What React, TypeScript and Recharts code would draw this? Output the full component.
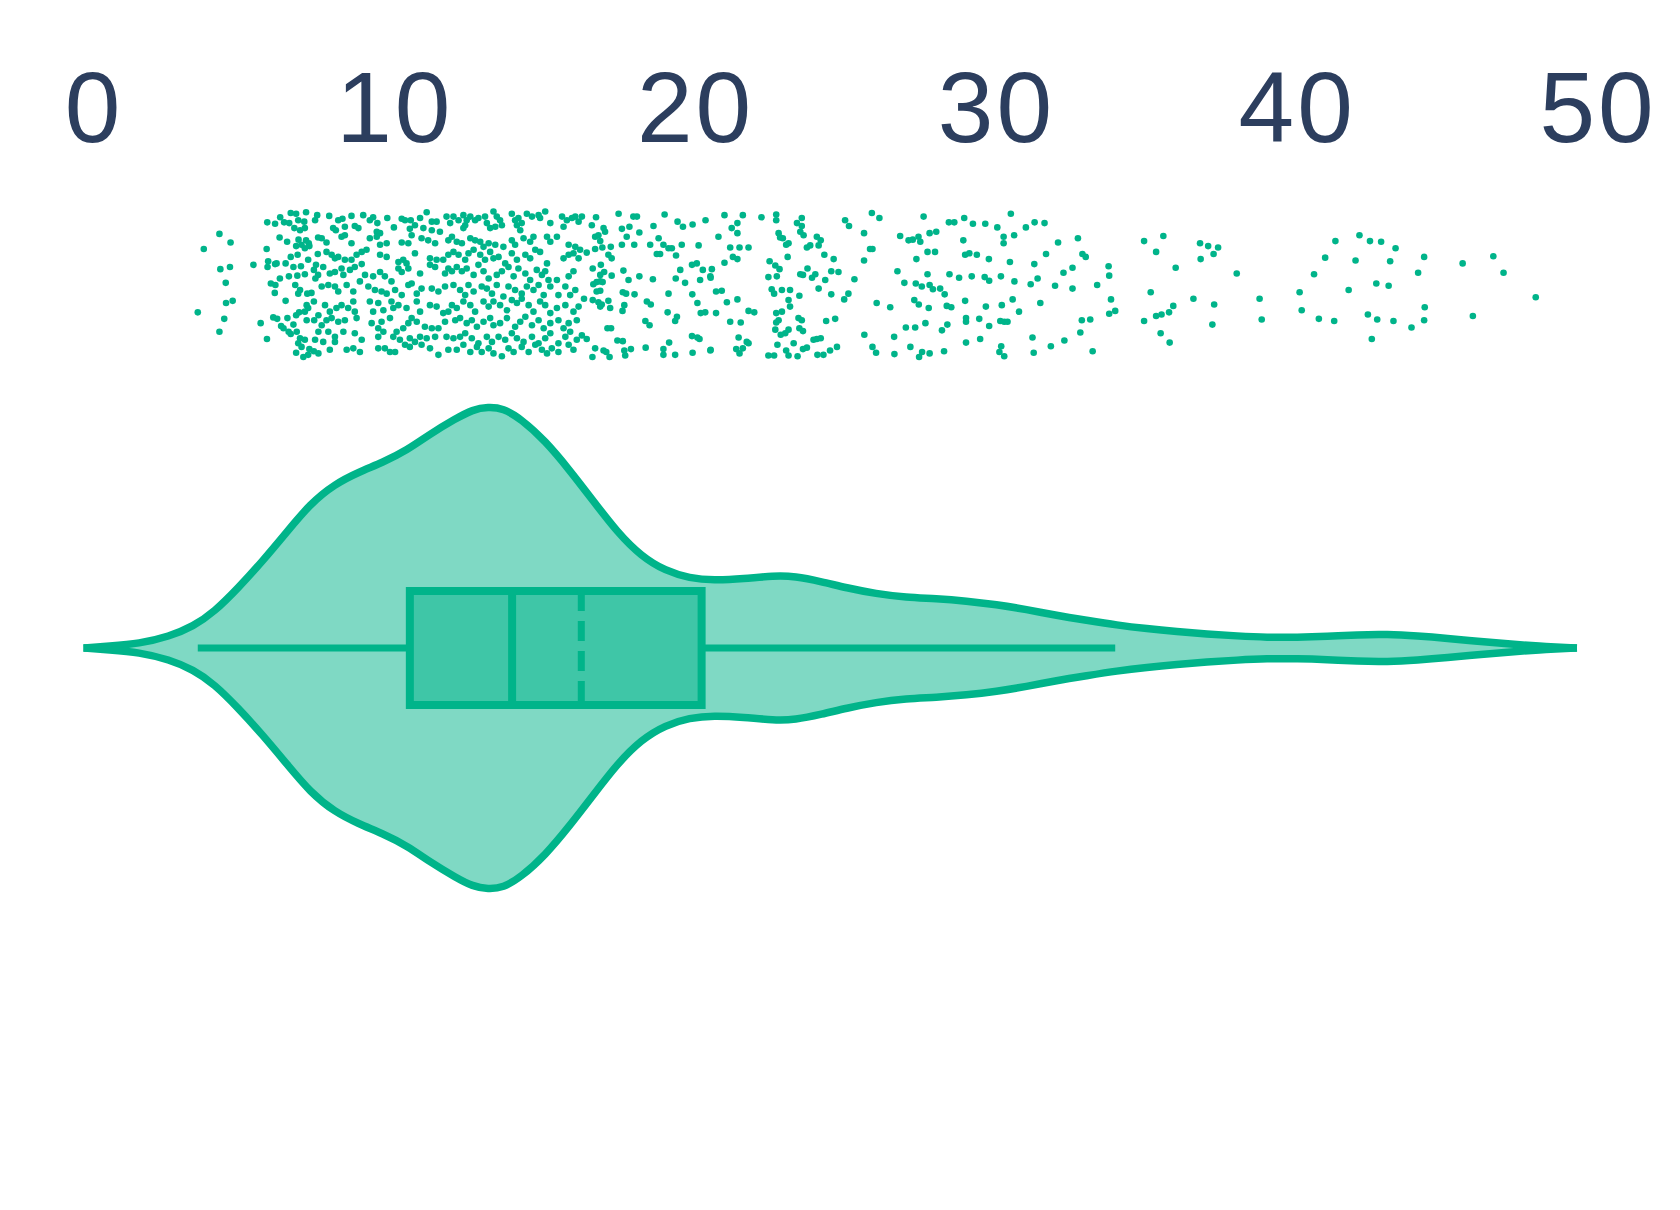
import React from 'react';
import { ComposedChart, XAxis, YAxis, Area, Line, Scatter } from 'recharts';

// ---------- data ----------
const xTicks = [0, 10, 20, 30, 40, 50];

// box-plot statistics
const whiskerLow = 3.45;
const q1 = 10.5;
const median = 13.9;
const mean = 16.2;
const q3 = 20.2;
const whiskerHigh = 33.95;

// violin: value -> relative density (peak = 1)
const violinX = [
  -0.35, 0.5, 1.5, 2.5, 3.3, 4.0, 4.8, 5.6, 6.4, 7.2, 8.0, 8.8, 9.6, 10.4, 11.2, 12.0, 12.6, 13.1,
  13.6, 14.2, 15.0, 15.8, 16.6, 17.4, 18.2, 19.0, 19.8, 20.6, 21.6, 22.6, 23.3, 24.2, 25.0, 26.0,
  27.0, 28.0, 29.0, 30.0, 31.0, 32.0, 33.0, 34.0, 35.0, 36.0, 37.0, 38.0, 39.0, 40.0, 41.0, 42.0,
  43.0, 44.0, 45.0, 46.0, 47.0, 48.0, 49.3,
];
const violinDensity = [
  0, 0.008, 0.018, 0.048, 0.09, 0.15, 0.25, 0.36, 0.48, 0.6, 0.68, 0.73, 0.77, 0.82, 0.89, 0.95, 0.99, 1.0,
  0.995, 0.95, 0.86, 0.74, 0.61, 0.48, 0.38, 0.32, 0.29, 0.28, 0.287, 0.3, 0.298, 0.275, 0.25, 0.225,
  0.21, 0.205, 0.195, 0.18, 0.16, 0.135, 0.115, 0.095, 0.08, 0.068, 0.058, 0.05, 0.044, 0.044, 0.048, 0.055,
  0.057, 0.05, 0.04, 0.028, 0.017, 0.008, 0,
];

// strip points: [value, jitter in -1..1]
const dots: [number, number][] = [
  [4.17,0.71],[4.54,0.59],[3.65,0.5],[4.2,0.22],[4.52,0.25],[4.38,0.03],[4.39,-0.25],[4.61,-0.22],[3.45,-0.38],[4.33,-0.47],
  [4.17,-0.65],[5.3,0.28],[5.54,-0.53],[5.75,-0.75],[5.74,0.5],[5.76,0.87],[5.79,0.33],[5.77,0.25],[6.02,0.29],[6.07,0.3],
  [5.88,0.02],[6.03,0.0],[6.01,-0.11],[5.96,-0.45],[6.09,-0.47],[6.22,-0.57],[6.3,-0.6],[6.02,0.85],[6.19,0.94],[6.32,0.87],
  [6.49,0.86],[6.54,1.0],[6.72,0.99],[7.05,1.01],[6.79,0.9],[6.99,0.88],[6.66,0.79],[6.85,0.76],[7.01,0.79],[7.35,0.9],
  [7.42,0.97],[6.17,0.66],[6.42,0.6],[6.8,0.63],[7.05,0.62],[7.14,0.58],[6.72,0.54],[6.9,0.56],[7.01,0.51],[7.16,0.54],
  [7.45,0.66],[6.54,0.39],[6.77,0.42],[6.37,0.3],[6.63,0.25],[6.88,0.26],[7.12,0.35],[7.38,0.28],[7.44,0.43],[6.18,0.09],
  [6.48,0.12],[6.76,0.13],[7.01,0.15],[7.31,0.21],[7.45,0.14],[7.36,0.09],[6.69,0.0],[6.85,-0.07],[6.79,-0.12],[7.09,-0.12],
  [7.23,-0.11],[7.31,-0.23],[6.37,-0.22],[7.07,-0.28],[7.01,-0.37],[7.12,-0.32],[6.43,-0.46],[6.72,-0.42],[6.82,-0.38],[7.07,-0.49],
  [7.32,-0.49],[7.46,-0.42],[6.47,-0.65],[6.54,-0.68],[6.74,-0.65],[6.63,-0.55],[6.85,-0.74],[7.01,-0.76],[6.79,-0.81],[7.35,-0.76],
  [7.46,-0.65],[6.72,-0.94],[6.9,-0.86],[7.16,-0.89],[7.31,-0.92],[7.46,-0.95],[6.96,-1.0],[7.12,-0.97],
  [7.82,0.96],[8.12,0.9],[8.26,0.92],[8.56,0.96],[8.95,0.97],[9.17,0.9],[9.28,0.94],[9.42,0.86],[9.75,0.93],[10.23,0.92],
  [10.34,0.9],[10.53,0.9],[10.84,0.93],[11.06,1.01],[11.23,0.88],[11.39,0.88],[11.72,0.95],[7.95,0.79],[8.04,0.76],[8.34,0.81],
  [8.67,0.82],[8.79,0.79],[9.4,0.74],[9.51,0.72],[9.97,0.8],[10.5,0.78],[10.67,0.83],[10.95,0.79],[11.23,0.76],[11.5,0.74],
  [11.84,0.86],[7.57,0.65],[7.73,0.59],[8.23,0.67],[8.34,0.69],[8.56,0.58],[8.9,0.46],[9.06,0.49],[9.17,0.65],[9.4,0.67],
  [9.51,0.56],[9.73,0.58],[10.23,0.59],[10.45,0.58],[10.56,0.69],[10.89,0.65],[11.11,0.62],[11.34,0.58],[11.78,0.62],[7.73,0.46],
  [7.9,0.42],[8.01,0.37],[8.12,0.39],[8.34,0.35],[8.56,0.35],[8.73,0.42],[9.51,0.42],[9.73,0.39],[10.12,0.32],[10.28,0.35],
  [10.39,0.3],[10.67,0.44],[11.17,0.37],[11.39,0.35],[11.61,0.35],[11.78,0.42],[7.62,0.25],[7.84,0.16],[8.01,0.18],[8.23,0.23],
  [8.29,0.14],[8.51,0.21],[8.67,0.25],[8.9,0.29],[9.01,0.14],[9.28,0.12],[9.51,0.18],[9.67,0.12],[9.89,0.05],[10.12,0.23],
  [10.23,0.18],[10.45,0.23],[10.84,0.16],[11.17,0.28],[11.34,0.25],[11.67,0.16],[11.78,0.23],[7.57,-0.02],[7.79,0.0],[8.01,-0.02],
  [8.12,-0.09],[8.4,0.0],[8.62,-0.09],[8.84,0.05],[9.12,-0.02],[9.34,-0.07],[9.56,-0.09],[9.73,-0.12],[10.01,-0.07],[10.23,-0.14],
  [10.45,0.0],[10.56,0.02],[10.73,-0.12],[10.89,-0.05],[11.23,-0.05],[11.45,-0.09],[11.67,-0.02],[7.68,-0.28],[7.84,-0.37],[8.06,-0.32],
  [8.23,-0.28],[8.45,-0.32],[8.62,-0.23],[8.67,-0.37],[9.17,-0.23],[9.28,-0.37],[9.45,-0.25],[9.62,-0.35],[9.89,-0.23],[9.95,-0.32],
  [10.12,-0.28],[10.39,-0.32],[10.73,-0.23],[10.84,-0.37],[11.17,-0.28],[11.39,-0.3],[11.61,-0.39],[11.78,-0.37],[7.57,-0.56],[7.73,-0.49],
  [7.9,-0.46],[8.12,-0.51],[8.34,-0.49],[8.73,-0.46],[9.23,-0.53],[9.45,-0.6],[9.56,-0.51],[9.84,-0.46],[10.06,-0.65],[10.28,-0.6],
  [10.45,-0.53],[10.56,-0.46],[10.73,-0.51],[11.0,-0.58],[11.23,-0.6],[11.45,-0.6],[11.67,-0.51],[7.79,-0.65],[8.01,-0.72],[8.29,-0.65],
  [8.67,-0.67],[8.9,-0.76],[9.45,-0.72],[9.62,-0.65],[9.95,-0.72],[10.17,-0.76],[10.5,-0.74],[10.67,-0.79],[10.84,-0.72],[11.06,-0.74],
  [11.34,-0.72],[11.72,-0.72],[7.62,-0.79],[7.84,-0.9],[8.01,-0.79],[8.4,-0.9],[8.62,-0.88],[8.84,-0.93],[9.45,-0.88],[9.67,-0.88],
  [9.84,-0.93],[10.01,-0.93],[10.34,-0.83],[10.5,-0.86],[10.89,-0.83],[11.17,-0.88],[11.45,-0.97],[11.78,-0.9],
  [11.95,0.95],[12.12,0.9],[12.28,0.97],[12.39,0.9],[12.51,0.95],[12.67,0.9],[12.78,0.93],[13.0,0.95],[13.06,0.86],[13.28,1.02],
  [13.39,0.95],[13.5,0.9],[13.56,0.83],[13.89,0.99],[14.0,0.9],[14.11,0.93],[14.06,0.83],[14.22,0.86],[14.39,0.99],[14.56,0.95],
  [14.78,0.97],[15.0,1.02],[15.17,0.86],[15.56,0.95],[15.72,0.9],[15.89,0.93],[16.0,0.95],[16.11,0.88],[12.28,0.79],[12.34,0.83],
  [13.17,0.79],[13.34,0.81],[14.17,0.76],[14.83,0.93],[15.61,0.81],[11.9,0.67],[12.06,0.6],[12.23,0.58],[12.51,0.65],[12.67,0.62],
  [12.84,0.6],[12.95,0.53],[13.12,0.58],[13.34,0.56],[13.61,0.53],[13.89,0.62],[14.0,0.56],[14.28,0.65],[14.5,0.6],[14.61,0.67],
  [15.06,0.67],[15.17,0.6],[15.39,0.67],[15.78,0.56],[16.0,0.53],[11.95,0.46],[12.12,0.42],[12.34,0.35],[12.45,0.44],[12.62,0.49],
  [12.84,0.42],[13.0,0.35],[13.17,0.46],[13.28,0.37],[13.45,0.39],[13.67,0.3],[13.89,0.44],[14.06,0.35],[14.34,0.42],[14.5,0.37],
  [14.67,0.49],[14.83,0.46],[15.06,0.3],[15.61,0.37],[15.78,0.42],[15.94,0.44],[16.11,0.37],[11.9,0.19],[12.06,0.25],[12.23,0.19],
  [12.39,0.23],[12.62,0.14],[12.78,0.28],[12.95,0.19],[13.12,0.09],[13.39,0.14],[13.56,0.19],[13.78,0.25],[13.95,0.12],[14.11,0.23],
  [14.34,0.16],[14.5,0.07],[14.72,0.21],[14.89,0.14],[15.0,0.19],[15.11,0.07],[15.39,0.07],[15.78,0.12],[15.94,0.19],[11.95,0.0],
  [12.17,-0.07],[12.34,-0.14],[12.45,0.0],[12.62,-0.09],[12.89,-0.02],[13.06,-0.05],[13.23,-0.12],[13.39,0.0],[13.61,-0.16],[13.78,-0.02],
  [14.0,-0.07],[14.22,-0.12],[14.39,-0.02],[14.61,-0.07],[14.78,0.0],[14.95,-0.14],[15.17,-0.02],[15.44,-0.14],[15.67,-0.02],[15.83,-0.14],
  [16.0,-0.07],[11.9,-0.28],[12.06,-0.32],[12.28,-0.23],[12.51,-0.28],[12.67,-0.37],[12.95,-0.23],[13.12,-0.3],[13.28,-0.23],[13.5,-0.28],
  [13.73,-0.35],[13.89,-0.21],[14.06,-0.25],[14.22,-0.19],[14.45,-0.28],[14.61,-0.37],[14.83,-0.23],[15.0,-0.28],[15.17,-0.39],[15.39,-0.32],
  [15.67,-0.28],[15.94,-0.37],[16.11,-0.3],[12.01,-0.49],[12.17,-0.46],[12.39,-0.53],[12.56,-0.49],[12.73,-0.58],[12.95,-0.51],[13.17,-0.46],
  [13.28,-0.56],[13.5,-0.53],[13.73,-0.46],[14.0,-0.58],[14.17,-0.51],[14.34,-0.44],[14.56,-0.56],[14.78,-0.49],[14.95,-0.6],[15.17,-0.53],
  [15.44,-0.49],[15.61,-0.6],[15.78,-0.53],[16.05,-0.49],[11.95,-0.74],[12.17,-0.72],[12.34,-0.67],[12.56,-0.74],[12.78,-0.81],[13.06,-0.72],
  [13.23,-0.79],[13.45,-0.72],[13.67,-0.76],[13.89,-0.67],[14.06,-0.74],[14.28,-0.79],[14.56,-0.72],[14.78,-0.81],[15.0,-0.74],[15.17,-0.67],
  [15.44,-0.81],[15.67,-0.72],[15.83,-0.65],[16.05,-0.76],[12.06,-0.9],[12.28,-0.83],[12.51,-0.93],[12.73,-0.86],[12.89,-0.93],[13.12,-0.88],
  [13.28,-0.95],[13.56,-0.99],[13.78,-0.88],[13.95,-0.93],[14.22,-0.86],[14.45,-0.93],[14.67,-0.83],[14.89,-0.9],[15.06,-0.95],[15.22,-0.88],
  [15.44,-0.93],[15.78,-0.83],[15.94,-0.9],
  [16.22,0.95],[16.69,0.94],[17.44,0.99],[17.93,0.95],[18.05,0.95],[18.97,0.98],[19.4,0.88],[19.9,0.84],[20.33,0.9],[16.55,0.83],
  [16.94,0.79],[16.99,0.74],[17.55,0.78],[17.8,0.81],[18.13,0.73],[18.6,0.82],[19.58,0.81],[16.66,0.67],[16.77,0.69],[16.83,0.61],
  [17.71,0.67],[18.77,0.65],[18.93,0.56],[19.1,0.51],[19.21,0.51],[17.55,0.56],[17.18,0.53],[17.96,0.56],[18.49,0.56],[19.54,0.56],
  [20.1,0.55],[16.16,0.49],[16.38,0.45],[16.66,0.5],[16.9,0.52],[17.1,0.42],[17.21,0.37],[18.71,0.43],[18.82,0.43],[19.35,0.41],
  [16.58,0.23],[16.85,0.28],[16.83,0.14],[16.96,0.18],[17.21,0.13],[17.6,0.2],[17.77,0.07],[18.13,0.12],[18.58,0.08],[19.34,0.09],
  [19.49,0.21],[19.65,0.03],[19.88,0.28],[20.04,0.3],[20.15,0.07],[20.24,0.21],[20.49,0.12],[16.6,0.01],[16.71,0.04],[16.83,0.05],
  [16.91,0.04],[16.71,-0.09],[16.83,-0.08],[17.58,-0.1],[17.69,-0.12],[17.97,-0.13],[19.1,-0.12],[19.89,-0.13],[16.29,-0.19],[16.58,-0.21],
  [16.77,-0.24],[16.83,-0.3],[16.88,-0.27],[17.1,-0.22],[17.16,-0.32],[17.63,-0.28],[17.57,-0.36],[18.38,-0.23],[18.51,-0.27],[19.07,-0.38],
  [19.38,-0.44],[19.32,-0.5],[20.06,-0.25],[20.17,-0.39],[20.32,-0.38],[18.33,-0.5],[18.47,-0.56],[17.07,-0.6],[17.19,-0.6],[16.22,-0.7],
  [16.38,-0.75],[17.4,-0.77],[17.58,-0.78],[19.88,-0.71],[20.06,-0.73],[20.13,-0.75],[19.12,-0.8],[16.66,-0.88],[16.94,-0.91],[17.03,-0.93],
  [17.63,-0.91],[17.85,-0.89],[18.34,-0.87],[18.93,-0.89],[16.57,-1.0],[17.14,-1.0],[17.66,-0.98],[18.93,-0.97],[19.32,-0.97],[19.9,-0.94],
  [20.49,-0.91],
  [20.96,0.97],[21.57,0.97],[22.19,0.94],[22.68,0.98],[22.68,0.9],[23.37,0.86],[23.53,0.93],[23.53,0.82],[21.39,0.86],[21.2,0.79],
  [21.39,0.72],[20.76,0.67],[22.76,0.72],[22.81,0.66],[22.9,0.65],[23.48,0.74],[23.59,0.69],[24.03,0.67],[24.16,0.62],[21.15,0.52],
  [21.46,0.52],[21.76,0.52],[23.09,0.58],[23.01,0.56],[23.7,0.52],[23.81,0.55],[24.09,0.55],[21.24,0.39],[21.39,0.36],[20.96,0.31],
  [23.06,0.39],[24.28,0.42],[24.59,0.36],[22.46,0.33],[22.65,0.27],[22.79,0.22],[20.54,0.22],[20.5,0.1],[22.42,0.11],[22.7,0.12],
  [23.48,0.15],[23.57,0.14],[23.72,0.23],[23.87,0.1],[23.98,0.15],[24.31,0.07],[24.51,0.19],[24.75,0.18],[20.68,-0.09],[20.87,-0.08],
  [21.39,-0.2],[21.04,-0.24],[22.53,-0.06],[22.61,-0.12],[22.87,-0.07],[23.14,-0.07],[23.45,-0.15],[24.09,-0.05],[24.51,-0.13],[23.09,-0.21],
  [23.14,-0.3],[20.68,-0.39],[21.76,-0.36],[21.95,-0.38],[22.68,-0.39],[22.87,-0.37],[22.76,-0.49],[22.68,-0.52],[21.15,-0.51],[21.5,-0.52],
  [23.42,-0.46],[23.53,-0.49],[24.34,-0.5],[24.64,-0.47],[22.65,-0.62],[22.98,-0.67],[23.09,-0.62],[22.83,-0.69],[23.45,-0.6],[23.57,-0.64],
  [21.43,-0.73],[21.7,-0.79],[21.76,-0.81],[23.26,-0.81],[22.72,-0.83],[23.92,-0.76],[24.03,-0.75],[24.16,-0.74],[24.7,-0.86],[20.5,-0.9],
  [21.35,-0.89],[21.57,-0.88],[21.46,-0.95],[22.42,-0.98],[22.61,-0.98],[23.01,-0.91],[23.09,-0.98],[23.39,-0.99],[23.57,-0.89],[23.7,-0.87],
  [24.05,-0.97],[24.25,-0.97],[24.47,-0.91],
  [24.97,0.9],[25.1,0.82],[25.6,0.72],[25.86,1.0],[26.11,0.93],[25.28,0.08],[25.08,-0.12],[24.94,-0.2],[25.6,0.34],[25.88,0.5],
  [25.8,0.5],[26.02,-0.25],[26.47,-0.31],[25.88,-0.86],[26.0,-0.94],[25.61,-0.69],[26.6,-0.72],[26.61,-0.96],[26.8,0.68],[26.71,0.19],
  [26.94,0.03],[26.99,-0.59],[27.08,0.62],[27.22,0.63],[27.41,0.67],[27.47,0.6],[27.58,0.95],[27.34,0.36],[27.71,0.46],[27.96,0.46],
  [27.78,0.72],[28.0,0.74],[27.32,0.02],[27.52,-0.02],[27.71,0.15],[27.78,0.0],[27.89,-0.06],[28.13,-0.05],[28.28,-0.13],[27.27,-0.21],
  [27.42,-0.27],[27.75,-0.32],[27.3,-0.59],[27.64,-0.53],[27.14,-0.86],[27.53,-0.93],[27.78,-0.95],[27.43,-1.0],[28.26,-0.92],[28.19,-0.63],
  [28.37,-0.55],[28.35,-0.29],[28.5,-0.31],[28.42,0.87],[28.6,0.87],[28.93,0.93],[29.22,0.85],[29.63,0.85],[30.03,0.8],[30.48,0.99],
  [30.24,0.67],[30.59,0.69],[30.98,0.8],[31.27,0.87],[31.6,0.86],[28.9,0.62],[28.96,0.42],[29.1,0.44],[29.35,0.42],[29.75,0.36],
  [30.24,0.58],[30.45,0.32],[31.26,0.29],[31.37,0.09],[31.14,0.01],[31.65,0.43],[32.05,0.59],[32.71,0.65],[32.86,0.43],[32.97,0.39],
  [32.23,0.17],[32.53,0.24],[31.95,-0.01],[32.53,-0.05],[33.35,0.0],[33.73,0.26],[33.75,0.13],[33.81,-0.2],[33.95,-0.36],[33.75,-0.4],
  [28.44,0.15],[28.76,0.1],[29.18,0.12],[29.61,0.11],[29.76,0.06],[30.15,0.12],[30.6,0.05],[28.96,-0.22],[29.65,-0.3],[30.18,-0.28],
  [30.54,-0.2],[30.75,-0.37],[31.46,-0.25],[28.99,-0.46],[28.99,-0.51],[29.43,-0.47],[29.76,-0.57],[30.13,-0.5],[30.26,-0.51],[30.37,-0.51],
  [32.84,-0.49],[33.12,-0.48],[29.46,-0.75],[28.99,-0.8],[30.16,-0.85],[30.1,-0.93],[30.26,-0.99],[31.2,-0.73],[31.24,-0.94],[31.81,-0.85],
  [32.26,-0.77],[32.79,-0.66],[33.2,-0.92],
  [34.91,0.61],[35.55,0.68],[35.31,0.46],[35.96,0.24],[35.13,-0.1],[34.91,-0.5],[35.31,-0.43],[35.49,-0.41],[35.74,-0.38],[35.88,-0.29],
  [35.46,-0.67],[35.76,-0.8],[36.77,0.58],[37.04,0.54],[37.37,0.52],[36.79,0.36],[37.22,0.43],[36.55,-0.19],[37.24,-0.27],[37.18,-0.55],
  [37.99,0.16],[38.75,-0.19],[38.82,-0.48],[40.08,-0.1],[40.15,-0.35],[40.56,0.15],[40.93,0.38],[41.27,0.61],[40.72,-0.47],[41.23,-0.5],
  [41.71,-0.07],[41.94,0.34],[42.07,0.69],[42.42,0.61],[42.79,0.6],[43.27,0.51],[43.09,0.33],[42.63,0.02],[43.04,-0.01],[42.35,-0.41],
  [42.66,-0.48],[43.2,-0.5],[42.48,-0.75],[43.8,-0.59],[44.02,0.17],[44.22,0.39],[44.24,-0.31],[44.22,-0.49],[45.5,0.3],[45.84,-0.43],
  [46.52,0.4],[46.86,0.17],[47.93,-0.17],
];

// ---------- styling / layout constants ----------
const GREEN = '#00b48a';
const TEXT = '#2c3e5e';
const W = 1680;
const H = 1210;
const X_DOMAIN: [number, number] = [-1, 51];
const PX_PER_UNIT = 30.08;
const X0_PX = 94;
const AXIS_H = 190;
const CENTER_PX = 648;
const VIOLIN_PEAK_PX = 241;
const BOX_HALF = 0.236;
const JIT_CENTER_PX = 285;
const JIT_PX = 72;

const marginLeft = X0_PX + X_DOMAIN[0] * PX_PER_UNIT;
const marginRight = W - (X0_PX + X_DOMAIN[1] * PX_PER_UNIT);
const violinDomain: [number, number] = [
  -(H - CENTER_PX) / VIOLIN_PEAK_PX,
  (CENTER_PX - AXIS_H) / VIOLIN_PEAK_PX,
];
const jitDomain: [number, number] = [
  -(H - JIT_CENTER_PX) / JIT_PX,
  (JIT_CENTER_PX - AXIS_H) / JIT_PX,
];

const violinData = violinX.map((x, i) => ({ x, range: [-violinDensity[i], violinDensity[i]] }));
const boxFill = [
  { x: q1, range: [-BOX_HALF, BOX_HALF] },
  { x: q3, range: [-BOX_HALF, BOX_HALF] },
];
const boxOutline = [
  { x: q1, y: 0 },
  { x: q1, y: BOX_HALF },
  { x: q3, y: BOX_HALF },
  { x: q3, y: -BOX_HALF },
  { x: q1, y: -BOX_HALF },
  { x: q1, y: 0 },
];
const lowWhisker = [{ x: whiskerLow, y: 0 }, { x: q1, y: 0 }];
const highWhisker = [{ x: q3, y: 0 }, { x: whiskerHigh, y: 0 }];
const medianLine = [{ x: median, y: BOX_HALF }, { x: median, y: -BOX_HALF }];
const meanLine = [{ x: mean, y: BOX_HALF }, { x: mean, y: -BOX_HALF }];
const dotData = dots.map(([x, j]) => ({ x, j }));

const Dot = (props: any) => <circle cx={props.cx} cy={props.cy} r={3.3} fill={GREEN} />;

export default function App() {
  return (
    <div style={{ position: 'absolute', left: 0, top: 0, width: W, height: H, background: '#fff' }}>
      <ComposedChart width={W} height={H} margin={{ top: 0, right: marginRight, bottom: 0, left: marginLeft }}>
        <XAxis
          type="number"
          dataKey="x"
          orientation="top"
          domain={X_DOMAIN}
          ticks={xTicks}
          interval={0}
          height={AXIS_H}
          axisLine={false}
          tickLine={false}
          tickSize={0}
          tickMargin={48}
          tick={{ fontSize: 100, fill: TEXT, fontFamily: 'Liberation Sans', letterSpacing: 3 }}
        />
        <YAxis yAxisId="v" type="number" domain={violinDomain} hide />
        <YAxis yAxisId="s" type="number" dataKey="j" domain={jitDomain} hide />
        <Area
          yAxisId="v"
          data={violinData}
          dataKey="range"
          type="basis"
          fill={GREEN}
          fillOpacity={0.5}
          stroke={GREEN}
          strokeWidth={7.5}
          isAnimationActive={false}
          activeDot={false}
        />
        <Area
          yAxisId="v"
          data={boxFill}
          dataKey="range"
          type="linear"
          fill={GREEN}
          fillOpacity={0.5}
          stroke="none"
          isAnimationActive={false}
          activeDot={false}
        />
        <Line yAxisId="v" data={lowWhisker} dataKey="y" type="linear" stroke={GREEN} strokeWidth={7} dot={false} activeDot={false} isAnimationActive={false} />
        <Line yAxisId="v" data={highWhisker} dataKey="y" type="linear" stroke={GREEN} strokeWidth={7} dot={false} activeDot={false} isAnimationActive={false} />
        <Line yAxisId="v" data={boxOutline} dataKey="y" type="linear" stroke={GREEN} strokeWidth={8} strokeLinejoin="miter" dot={false} activeDot={false} isAnimationActive={false} />
        <Line yAxisId="v" data={medianLine} dataKey="y" type="linear" stroke={GREEN} strokeWidth={8} dot={false} activeDot={false} isAnimationActive={false} />
        <Line yAxisId="v" data={meanLine} dataKey="y" type="linear" stroke={GREEN} strokeWidth={7} strokeDasharray="20 10" dot={false} activeDot={false} isAnimationActive={false} />
        <Scatter yAxisId="s" data={dotData} dataKey="j" shape={Dot} isAnimationActive={false} />
      </ComposedChart>
    </div>
  );
}
